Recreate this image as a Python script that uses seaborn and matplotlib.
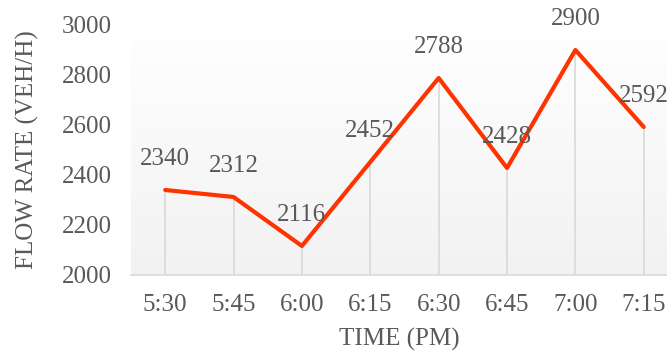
import numpy as np
import pandas as pd
import matplotlib
matplotlib.use("Agg")
import matplotlib.pyplot as plt
import seaborn as sns

# data
times = ["5:30", "5:45", "6:00", "6:15", "6:30", "6:45", "7:00", "7:15"]
flow = [2340, 2312, 2116, 2452, 2788, 2428, 2900, 2592]

sns.set_style("white")
plt.rcParams["font.family"] = ["Liberation Serif", "DejaVu Serif"]
text_color = "#595959"
fs = 18

df = pd.DataFrame({"pos": np.arange(len(times)), "flow": flow})

fig = plt.figure(figsize=(6.67, 3.54), dpi=100)
ax = fig.add_axes([0.1964, 0.2232, 0.8036, 0.7062])

# gradient background: white at top to light gray at bottom
grad = np.linspace(1.0, 0.0, 256).reshape(-1, 1)
cmap = matplotlib.colors.LinearSegmentedColormap.from_list("bg", ["#f2f2f2", "#ffffff"])
ax.imshow(grad, extent=[-0.5, 7.34, 2000, 3000], aspect="auto", cmap=cmap,
          origin="upper", zorder=0, vmin=0, vmax=1)

# drop lines
ax.vlines(df["pos"], 2000, df["flow"], color="#d9d9d9", linewidth=1.2, zorder=1)

sns.lineplot(data=df, x="pos", y="flow", ax=ax, color="#ff3300", linewidth=3.0, zorder=3)

for x, y in zip(df["pos"], df["flow"]):
    ax.annotate(str(y), (x, y), xytext=(0, 22), textcoords="offset points",
                ha="center", va="center", fontsize=fs, color=text_color,
                annotation_clip=False, zorder=4)

ax.set_xlim(-0.5, 7.34)
ax.set_ylim(2000, 3000)
ax.set_xticks(df["pos"])
ax.set_xticklabels(times)
ax.set_yticks(np.arange(2000, 3001, 200))
ax.tick_params(axis="both", length=0, labelsize=fs, labelcolor=text_color)
ax.tick_params(axis="x", pad=14)
ax.tick_params(axis="y", pad=14)

for side in ["top", "right", "left"]:
    ax.spines[side].set_visible(False)
ax.spines["bottom"].set_color("#d9d9d9")
ax.spines["bottom"].set_linewidth(1.2)

ax.set_xlabel("TIME (PM)", fontsize=fs, color=text_color, labelpad=8)
ax.set_ylabel("FLOW RATE (VEH/H)", fontsize=fs, color=text_color, labelpad=16)

fig.savefig("out.png", dpi=100)
